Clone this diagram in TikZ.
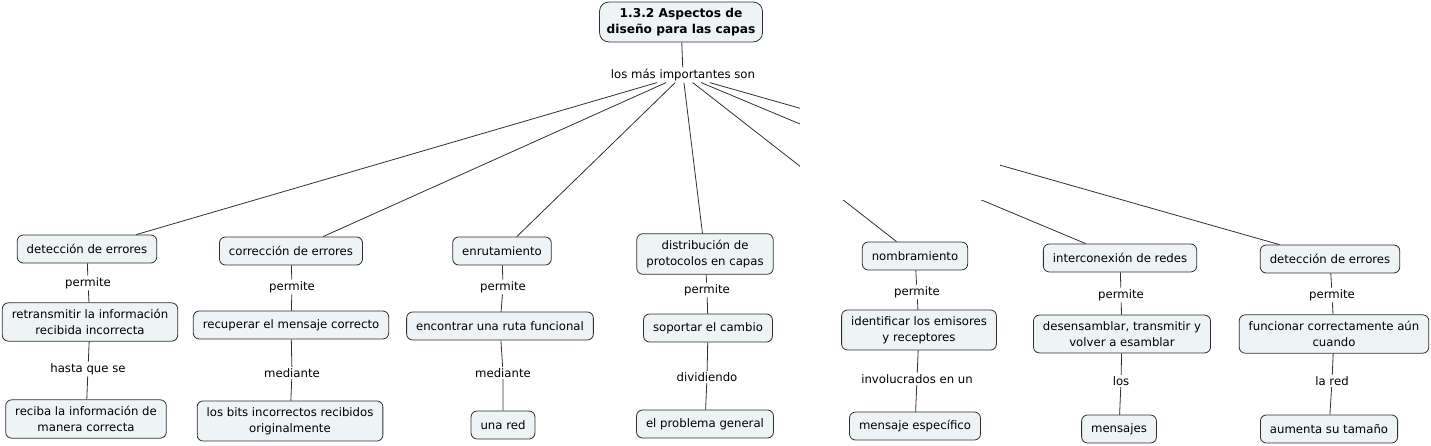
\documentclass[tikz,border=0pt]{standalone}
\usepackage{fontspec}
\setmainfont{DejaVu Sans}
\definecolor{cfill}{HTML}{EEF3F5}
\definecolor{cline}{HTML}{303030}
\tikzset{
  concept/.style={draw=cline, fill=cfill, rounded corners=6pt, align=center,
    inner xsep=9.5pt, inner ysep=6.5pt, minimum height=28pt, line width=0.8pt,
    font=\fontsize{11.7}{15.8}\selectfont},
  titlebox/.style={concept, rounded corners=9pt, inner xsep=7pt, inner ysep=6pt,
    font=\bfseries\fontsize{12.2}{16}\selectfont},
  linklbl/.style={inner sep=1.5pt, align=center,
    font=\fontsize{11.7}{15.8}\selectfont},
  conn/.style={draw=cline, line width=0.8pt}
}
\begin{document}
\begin{tikzpicture}[x=1pt,y=-1pt]
\useasboundingbox (0,0) rectangle (1431,446);
% title and hub
\node[titlebox] (title) at (681,22) {1.3.2 Aspectos de\\diseño para las capas};
\node[linklbl] (hub) at (683,75) {los más importantes son};
% level 1
\node[concept] (a1) at (87,249) {detección de errores};
\node[concept] (b1) at (291,251) {corrección de errores};
\node[concept] (c1) at (502,251) {enrutamiento};
\node[concept] (d1) at (705,254) {distribución de\\protocolos en capas};
\node[concept] (e1) at (915,256) {nombramiento};
\node[concept] (f1) at (1120,258) {interconexión de redes};
\node[concept] (g1) at (1330,259) {detección de errores};
% link labels level 1-2
\node[linklbl] (a12) at (88,283) {permite};
\node[linklbl] (b12) at (292,287) {permite};
\node[linklbl] (c12) at (503,287) {permite};
\node[linklbl] (d12) at (707,290) {permite};
\node[linklbl] (e12) at (917,292) {permite};
\node[linklbl] (f12) at (1121,295) {permite};
\node[linklbl] (g12) at (1332,295) {permite};
% level 2
\node[concept] (a2) at (90,322) {retransmitir la información\\recibida incorrecta};
\node[concept] (b2) at (291,325) {recuperar el mensaje correcto};
\node[concept] (c2) at (500,326) {encontrar una ruta funcional};
\node[concept] (d2) at (708,328) {soportar el cambio};
\node[concept] (e2) at (919,330) {identificar los emisores\\y receptores};
\node[concept] (f2) at (1122,334) {desensamblar, transmitir y\\volver a esamblar};
\node[concept] (g2) at (1334,334) {funcionar correctamente aún\\cuando};
% link labels level 2-3
\node[linklbl] (a23) at (88,369) {hasta que se};
\node[linklbl] (b23) at (292,373) {mediante};
\node[linklbl] (c23) at (503,373) {mediante};
\node[linklbl] (d23) at (707,377) {dividiendo};
\node[linklbl] (e23) at (917,379) {involucrados en un};
\node[linklbl] (f23) at (1121,381) {los};
\node[linklbl] (g23) at (1332,381) {la red};
% level 3
\node[concept] (a3) at (86,419) {reciba la información de\\manera correcta};
\node[concept] (b3) at (290,421) {los bits incorrectos recibidos\\originalmente};
\node[concept] (c3) at (503,425) {una red};
\node[concept] (d3) at (705,424) {el problema general};
\node[concept] (e3) at (915,426) {mensaje específico};
\node[concept] (f3) at (1119,429) {mensajes};
\node[concept] (g3) at (1329,429) {aumenta su tamaño};
% connectors
\draw[conn] (title) -- (hub);
\foreach \n in {a1,b1,c1,d1,e1,f1,g1} {\draw[conn] (hub) -- (\n);}
% occluded stretch of the right-hand connectors
\fill[white] (800,97) rectangle (1000,200);
\foreach \p in {a,b,c,d,e,f,g} {
  \draw[conn] (\p1) -- (\p12) -- (\p2);
  \draw[conn] (\p2) -- (\p23) -- (\p3);
}
\end{tikzpicture}
\end{document}
